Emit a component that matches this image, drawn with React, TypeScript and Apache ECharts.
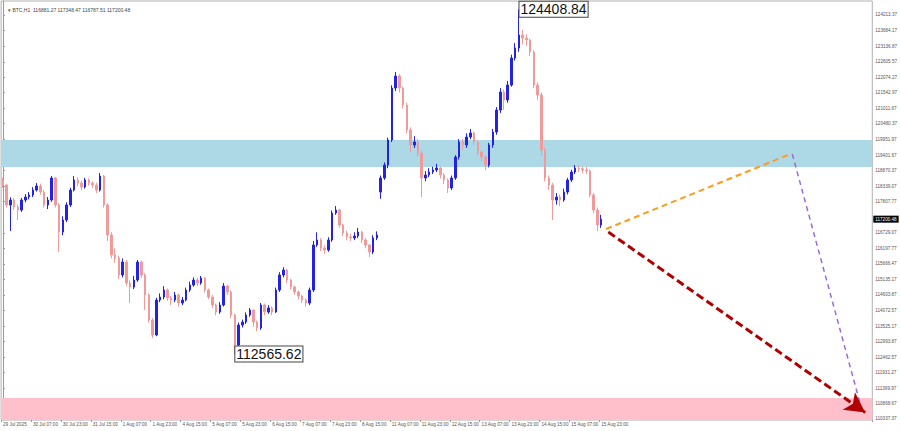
import React, { useEffect, useRef } from "react";
import * as echarts from "echarts";

// 2-hour candles (29 Jul 2025 15:00 .. 15 Aug 2025 23:00)
const opens = [
  118545, 118373, 117686, 117858, 117618, 117514, 117858, 117961, 118030, 118201,
  118339, 118133, 117686, 117858, 118614, 117686, 116759, 117171, 117686, 118201,
  118545, 118442, 118305, 118545, 118442, 118373, 118201, 118682, 117686, 116656,
  115969, 115866, 115282, 115728, 115007, 114870, 115110, 115728, 115282, 114595,
  113736, 113221, 114423, 114526, 114766, 114492, 114423, 114595, 114320, 114423,
  114766, 114938, 115110, 115007, 115179, 114766, 114526, 114251, 114011, 114251,
  114904, 114698, 113908, 112877, 113564, 113667, 113908, 114079, 113667, 113461,
  114251, 114011, 114148, 114011, 114766, 115282, 115453, 115110, 114870, 114698,
  114560, 114423, 114320, 114766, 116312, 116484, 116209, 116140, 116484, 117411,
  117514, 116999, 116724, 116587, 116553, 116621, 116759, 116484, 116312, 116072,
  116553, 118133, 118614, 119060, 119919, 121705, 122117, 121705, 121121, 120262,
  119747, 119850, 119472, 118614, 118717, 118820, 118888, 118957, 118717, 118545,
  118270, 118614, 119335, 119850, 119747, 120022, 120159, 119850, 119507, 119335,
  119060, 119747, 120194, 120949, 121568, 121293, 121808, 122736, 123079, 123526,
  123423, 123354, 122942, 121808, 121465, 119575, 118614, 118373, 117858, 117961,
  117858, 118133, 118545, 118820, 118957, 118930, 118888, 118860, 118030, 117514,
  116999,
];
const closes = [
  118373, 117686, 117858, 117618, 117514, 117858, 117961, 118030, 118201, 118339,
  118133, 117686, 117858, 118614, 117686, 116759, 117171, 117686, 118201, 118545,
  118442, 118305, 118545, 118442, 118373, 118201, 118682, 117686, 116656, 115969,
  115866, 115282, 115728, 115007, 114870, 115110, 115728, 115282, 114595, 113736,
  113221, 114423, 114526, 114766, 114492, 114423, 114595, 114320, 114423, 114766,
  114938, 115110, 115007, 115179, 114766, 114526, 114251, 114011, 114251, 114904,
  114698, 113908, 112877, 113564, 113667, 113908, 114079, 113667, 113461, 114251,
  114011, 114148, 114011, 114766, 115282, 115453, 115110, 114870, 114698, 114560,
  114423, 114320, 114766, 116312, 116484, 116209, 116140, 116484, 117411, 117514,
  116999, 116724, 116587, 116553, 116621, 116759, 116484, 116312, 116072, 116553,
  116656, 118614, 119060, 119919, 121705, 122117, 121705, 121121, 120262, 119747,
  119850, 119472, 118614, 118717, 118820, 118888, 118957, 118717, 118545, 118270,
  118614, 119335, 119850, 119747, 120022, 120159, 119850, 119507, 119335, 119060,
  119747, 120194, 120949, 121568, 121293, 121808, 122736, 123079, 123526, 123423,
  123354, 122942, 121808, 121465, 119575, 118614, 118373, 117858, 117961, 117858,
  118133, 118545, 118820, 118957, 118930, 118888, 118860, 118030, 117514, 116999,
  117200.48,
];
const highs = [
  118614, 118420, 117950, 117930, 117700, 117930, 118060, 118130, 118300, 118440,
  118420, 118200, 117960, 118680, 118650, 117750, 117300, 117780, 118280, 118682,
  118640, 118520, 118620, 118600, 118500, 118450, 118785, 118720, 117750, 116750,
  116200, 115950, 115850, 115800, 115100, 115250, 115800, 115780, 115350, 114650,
  113800, 114500, 114650, 114900, 114820, 114560, 114700, 114650, 114530, 114850,
  115050, 115200, 115180, 115250, 115220, 114820, 114600, 114300, 114350, 115007,
  114950, 114750, 113950, 113650, 113750, 114000, 114150, 114100, 113720, 114320,
  114300, 114250, 114200, 114850, 115380, 115550, 115500, 115150, 114920, 114750,
  114600, 114480, 114850, 116450, 116750, 116550, 116300, 116580, 117500, 117650,
  117560, 117050, 116800, 116700, 116750, 116900, 116800, 116550, 116350, 116650,
  116780, 118700, 119150, 120000, 121800, 122254, 122180, 121750, 121200, 120350,
  120050, 119950, 119550, 118850, 118950, 119000, 119100, 119000, 118780, 118600,
  118700, 119400, 119950, 119950, 120150, 120300, 120200, 119900, 119550, 119380,
  119820, 120300, 121050, 121700, 121650, 121950, 122850, 123250, 124408.84, 123700,
  123550, 123400, 123000, 121900, 121550, 119650, 118700, 118450, 118100, 118050,
  118250, 118620, 118900, 119060, 119050, 119000, 119000, 118900, 118100, 117600,
  117348.47,
];
const lows = [
  118270, 117600, 116793, 117520, 117171, 117450, 117780, 117880, 117960, 118150,
  118040, 117600, 117550, 117800, 117600, 116072, 116650, 117100, 117620, 118150,
  118330, 118200, 118250, 118350, 118270, 118100, 118150, 117600, 116450, 115850,
  115700, 115150, 115200, 114900, 114320, 114800, 115050, 115180, 114079, 113650,
  113118, 113180, 114350, 114450, 114400, 114250, 114350, 114200, 114250, 114380,
  114700, 114880, 114900, 114950, 114680, 114450, 114150, 113900, 113950, 114200,
  114600, 113800, 112565.62, 112800, 113480, 113600, 113850, 113500, 113350, 113400,
  113900, 113950, 113900, 113980, 114700, 115200, 115000, 114780, 114600, 114450,
  114320, 114200, 114250, 114700, 116250, 116100, 116000, 116080, 116420, 117350,
  116900, 116620, 116480, 116450, 116480, 116550, 116380, 116200, 115900, 116000,
  116480, 117900, 118550, 118950, 119850, 121600, 121550, 121000, 120150, 119500,
  119650, 119350, 117961, 118500, 118650, 118750, 118820, 118600, 118400, 118100,
  118200, 118550, 119250, 119600, 119650, 119950, 119750, 119400, 119200, 118888,
  118980, 119650, 120100, 120850, 120950, 121200, 121750, 122650, 122950, 123200,
  123150, 122800, 121700, 121300, 119400, 118500, 118200, 117171, 117700, 117650,
  117800, 118050, 118480, 118750, 118820, 118780, 118750, 117950, 117400, 116787.51,
  116900,
];

const xTickLabels = [
  "29 Jul 2025", "30 Jul 07:00", "30 Jul 23:00", "31 Jul 15:00", "1 Aug 07:00",
  "1 Aug 23:00", "4 Aug 15:00", "5 Aug 07:00", "5 Aug 23:00", "6 Aug 15:00",
  "7 Aug 07:00", "7 Aug 23:00", "8 Aug 15:00", "11 Aug 07:00", "11 Aug 23:00",
  "12 Aug 15:00", "13 Aug 07:00", "13 Aug 23:00", "14 Aug 15:00", "15 Aug 07:00",
  "15 Aug 23:00",
];
const yTickLabels = [
  124213.37, 123684.17, 123136.87, 122605.57, 122074.27, 121542.97, 121011.67,
  120480.37, 119951.97, 119401.67, 118870.37, 118339.07, 117807.77, 116729.07,
  116197.77, 115666.47, 115135.17, 114603.87, 114072.57, 113525.17, 112993.87,
  112462.57, 111931.27, 111399.97, 110868.67, 110337.37,
];

const lastPrice = 117200.48;
const peak = { index: 138, price: 124408.84 };
const trough = { index: 62, price: 112565.62 };
const resistanceZone = [118992, 119919];
const targetZone = [110302, 111057];
// forecast paths: [bar index, price]
const orangePath = [[161.3, 116862], [210.6, 119438]];
const purplePath = [[211.1, 119438], [229.4, 110800]];
const redPath = [[161.9, 116759], [230.6, 110560]];

const TOTAL_SLOTS = 233;
const Y_MIN = 110302;
const Y_MAX = 124694;

export default function App() {
  const ref = useRef<HTMLDivElement>(null);
  useEffect(() => {
    if (!ref.current) return;
    const chart = echarts.init(ref.current, null, { renderer: "svg" });
    const categories = Array.from({ length: TOTAL_SLOTS }, (_, i) => String(i));
    const candles = closes.map((c, i) => [opens[i], c, lows[i], highs[i]]);
    const labelFont = "Liberation Sans";
    chart.setOption({
      animation: false,
      backgroundColor: "#ffffff",
      title: {
        text: "▾ BTC,H1  116881.27 117348.47 116787.51 117200.48",
        left: 3,
        top: 2,
        textStyle: { fontSize: 5, fontWeight: "normal", color: "#444", fontFamily: labelFont },
      },
      grid: {
        left: 1,
        right: 25,
        top: 1,
        bottom: 11,
        show: true,
        borderColor: "#b0b0b0",
        borderWidth: 1,
      },
      xAxis: [
        {
          type: "category",
          data: categories,
          boundaryGap: true,
          axisLine: { show: false },
          axisTick: {
            show: true,
            length: 2,
            lineStyle: { color: "#999" },
            interval: (i: number) => i % 8 === 0 && i / 8 < xTickLabels.length,
          },
          axisLabel: {
            interval: (i: number) => i % 8 === 0 && i / 8 < xTickLabels.length,
            formatter: (_v: string, i: number) => xTickLabels[i / 8] ?? "",
            fontSize: 4.6,
            color: "#555",
            align: "left",
            margin: 2,
            fontFamily: labelFont,
          },
          splitLine: { show: false },
        },
        {
          type: "value",
          show: false,
          min: -0.5,
          max: TOTAL_SLOTS - 0.5,
        },
      ],
      yAxis: {
        type: "value",
        position: "right",
        min: Y_MIN,
        max: Y_MAX,
        axisLine: { show: true, lineStyle: { color: "#999" } },
        axisTick: { show: true, length: 2, lineStyle: { color: "#999" }, customValues: yTickLabels },
        axisLabel: {
          customValues: yTickLabels,
          formatter: (v: number) => v.toFixed(2),
          fontSize: 4.6,
          color: "#555",
          margin: 3,
          fontFamily: labelFont,
        },
        splitLine: { show: false },
      },
      series: [
        {
          type: "line",
          xAxisIndex: 1,
          data: [],
          z: 1,
          markArea: {
            silent: true,
            data: [
              [{ yAxis: resistanceZone[0], itemStyle: { color: "#add8e6" } }, { yAxis: resistanceZone[1] }],
              [{ yAxis: targetZone[0], itemStyle: { color: "#ffc0cb" } }, { yAxis: targetZone[1] }],
            ],
          },
        },
        {
          type: "candlestick",
          data: candles,
          barWidth: 2,
          z: 2,
          itemStyle: {
            color: "#2323e6",
            color0: "#f19a9a",
            borderColor: "#2323e6",
            borderColor0: "#f19a9a",
            borderWidth: 1,
          },
          markPoint: {
            silent: true,
            symbol: "circle",
            symbolSize: 1,
            itemStyle: { color: "rgba(0,0,0,0)" },
            label: {
              show: true,
              position: "right",
              distance: 0,
              fontSize: 14,
              color: "#111",
              fontFamily: labelFont,
              backgroundColor: "#ffffff",
              borderColor: "#444",
              borderWidth: 1,
              padding: [1, 1, 0, 1],
              formatter: (p: any) => p.value.toFixed(2),
            },
            data: [
              { coord: [peak.index, peak.price], value: peak.price },
              { coord: [trough.index, trough.price], value: trough.price },
            ],
          },
        },
        {
          type: "line",
          data: [],
          z: 6,
          markLine: {
            silent: true,
            symbol: ["none", "none"],
            lineStyle: { width: 0.01, color: "rgba(0,0,0,0)", type: "solid" },
            label: {
              show: true,
              position: "end",
              distance: 1,
              formatter: () => lastPrice.toFixed(2),
              backgroundColor: "#000000",
              color: "#ffffff",
              fontSize: 4.6,
              padding: [1, 2],
              fontFamily: labelFont,
            },
            emphasis: { disabled: true },
            data: [{ yAxis: lastPrice }],
          },
        },
        {
          type: "line",
          xAxisIndex: 1,
          data: [[orangePath[0][0], orangePath[0][1]]],
          symbol: "none",
          lineStyle: { opacity: 0 },
          z: 5,
          markLine: {
            silent: true,
            animation: false,
            label: { show: false },
            emphasis: { disabled: true },
            data: [
              [
                { coord: orangePath[0], symbol: "none", lineStyle: { color: "#ff9a1a", width: 2, type: [6, 4] } },
                { coord: orangePath[1], symbol: "none" },
              ],
              [
                { coord: purplePath[0], symbol: "none", lineStyle: { color: "#9b6bd6", width: 1.5, type: [5, 4] } },
                { coord: purplePath[1], symbol: "none" },
              ],
              [
                { coord: redPath[0], symbol: "none", lineStyle: { color: "#b00000", width: 3, type: [8, 4] } },
                { coord: redPath[1], symbol: "arrow", symbolSize: [16, 20] },
              ],
            ],
          },
        },
      ],
    });
    return () => chart.dispose();
  }, []);
  return <div ref={ref} style={{ width: 900, height: 431, position: "absolute", left: 0, top: 0 }} />;
}
